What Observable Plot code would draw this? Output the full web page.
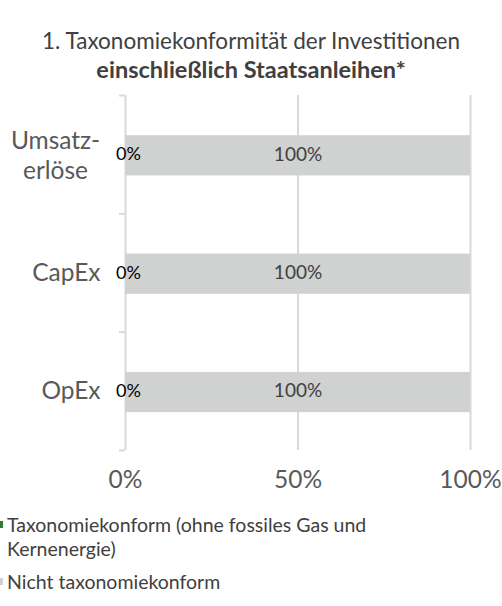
<!DOCTYPE html>
<html>
<head>
<meta charset="utf-8">
<script src="https://cdn.jsdelivr.net/npm/d3@7"></script>
<script src="https://cdn.jsdelivr.net/npm/@observablehq/plot@0.6"></script>
<style>
  body { margin: 0; background: #fff; font-family: Lato, sans-serif; width: 502px; overflow: hidden; }
  #title { height: 85px; box-sizing: border-box; padding-top: 26px; text-align: center; color: #404040; font-size: 22.5px; line-height: 29px; }
  #title b { font-weight: 700; font-size: 23.5px; }
  #legend { position: relative; color: #404040; font-size: 19.5px; line-height: 24px; margin-top: 18px; white-space: nowrap; }
  .item { position: relative; padding-left: 7px; }
  .sw { position: absolute; left: -4px; top: 8px; width: 7px; height: 7px; }
</style>
</head>
<body>
<div id="title">1. Taxonomiekonformität der Investitionen<br><b>einschließlich Staatsanleihen*</b></div>
<div id="chart"></div>
<div id="legend"></div>
<script>
const categories = ["Umsatzerlöse", "CapEx", "OpEx"];
const categoryLabels = ["Umsatz-\nerlöse", "CapEx", "OpEx"];
const seriesNames = ["Taxonomiekonform (ohne fossiles Gas und Kernenergie)", "Nicht taxonomiekonform"];
const taxonomiekonform = [0, 0, 0];
const nichtTaxonomiekonform = [100, 100, 100];
const xTicks = [0, 50, 100];
const colors = ["#2e7d32", "#d0d1d1"];

// build stacked rows
const rows = [];
categories.forEach((c, i) => {
  let acc = 0;
  [taxonomiekonform[i], nichtTaxonomiekonform[i]].forEach((v, s) => {
    rows.push({category: c, idx: i, series: seriesNames[s], x1: acc, x2: acc + v, value: v});
    acc += v;
  });
});

const labelRows = categories.map((c, i) => ({category: c, idx: i, label: categoryLabels[i]}));
const multiLine = labelRows.filter(d => d.label.includes("\n"));
const singleLine = labelRows.filter(d => !d.label.includes("\n"));

const chart = Plot.plot({
  width: 502,
  height: 410,
  marginLeft: 125,
  marginRight: 32,
  marginTop: 10,
  marginBottom: 45,
  style: {fontFamily: "Lato, sans-serif", background: "#fff"},
  x: {domain: [0, 100], label: null, axis: null},
  y: {domain: [0, categories.length], reverse: true, label: null, axis: null},
  color: {domain: seriesNames, range: colors},
  marks: [
    Plot.ruleX(xTicks.filter(d => d > 0), {y1: 0, y2: categories.length, stroke: "#d9d9d9", strokeWidth: 2}),
    Plot.ruleX([0], {y1: 0, y2: categories.length, stroke: "#d9d9d9", strokeWidth: 2}),
    Plot.axisY({ticks: d3.range(categories.length + 1), tickFormat: () => "", tickSize: 6, stroke: "#d9d9d9", strokeWidth: 2}),
    Plot.axisX({ticks: xTicks, tickFormat: d => d + "%", tickSize: 0, tickPadding: 20, fontSize: 24.5, fill: "#595959", fontFamily: "Lato, sans-serif"}),
    Plot.rectX(rows, {x1: "x1", x2: "x2", y1: d => d.idx + 0.34, y2: d => d.idx + 0.68, fill: "series"}),
    Plot.text(singleLine, {x: 0, y: d => d.idx + 0.5, text: "label", textAnchor: "end", dx: -25, fontSize: 24.5, fill: "#595959"}),
    Plot.text(multiLine, {x: 0, y: d => d.idx + 0.5, text: "label", textAnchor: "middle", dx: -70, fontSize: 24.5, fill: "#595959", lineHeight: 1.22}),
    Plot.text(rows.filter(r => r.series === seriesNames[0]), {x: d => (d.x1 + d.x2) / 2, y: d => d.idx + 0.5, text: d => d.value + "%", fontSize: 18, fill: "#000", dx: 3}),
    Plot.text(rows.filter(r => r.series === seriesNames[1]), {x: d => (d.x1 + d.x2) / 2, y: d => d.idx + 0.5, text: d => d.value + "%", fontSize: 19, fill: "#404040"})
  ]
});
document.getElementById("chart").appendChild(chart);

const legend = document.getElementById("legend");
const legendTexts = ["Taxonomiekonform (ohne fossiles Gas und<br>Kernenergie)", "Nicht taxonomiekonform"];
legendTexts.forEach((t, i) => {
  const div = document.createElement("div");
  div.className = "item";
  if (i > 0) div.style.marginTop = "9px";
  div.innerHTML = `<span class="sw" style="background:${colors[i]}"></span>${t}`;
  legend.appendChild(div);
});
</script>
</body>
</html>
